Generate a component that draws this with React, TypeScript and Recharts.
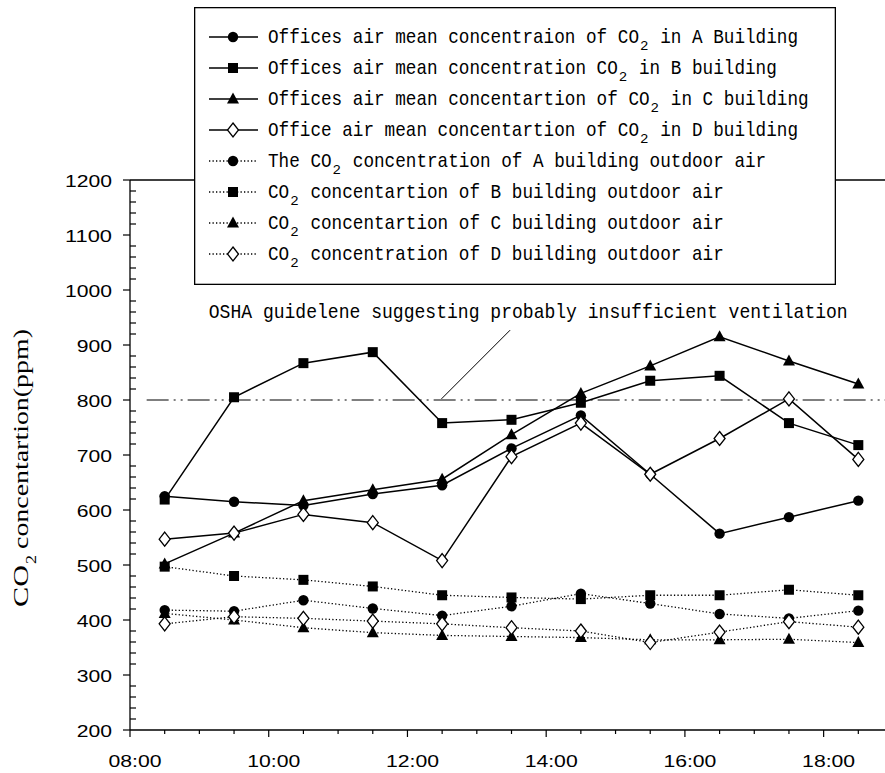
import React from 'react';
import { LineChart, Line, XAxis, YAxis, ReferenceLine, Legend, Label } from 'recharts';

// sampling times (hours), half past each hour
const hours = [8.5, 9.5, 10.5, 11.5, 12.5, 13.5, 14.5, 15.5, 16.5, 17.5, 18.5];

// indoor office means (ppm)
const officeA = [625, 615, 608, 629, 645, 712, 772, 665, 557, 587, 617];
const officeB = [619, 805, 867, 887, 758, 764, 795, 835, 844, 758, 718];
const officeC = [502, 558, 617, 637, 656, 737, 812, 862, 915, 871, 829];
const officeD = [547, 558, 592, 577, 508, 697, 758, 665, 730, 802, 692];

// outdoor air (ppm)
const outdoorA = [418, 416, 436, 421, 408, 425, 448, 430, 411, 403, 417];
const outdoorB = [497, 480, 473, 461, 445, 441, 438, 445, 445, 455, 445];
const outdoorC = [412, 400, 386, 377, 372, 370, 368, 364, 364, 365, 359];
const outdoorD = [393, 406, 403, 398, 393, 386, 380, 359, 378, 397, 387];

const xTicks = [8, 8.5, 9, 9.5, 10, 10.5, 11, 11.5, 12, 12.5, 13, 13.5, 14, 14.5, 15, 15.5, 16, 16.5, 17, 17.5, 18, 18.5, 19];
const yTicks = Array.from({ length: 51 }, (_, i) => 200 + i * 20);

const OSHA_LIMIT = 800;
const OSHA_NOTE = 'OSHA guidelene suggesting probably insufficient ventilation';

type Shape = 'circle' | 'square' | 'triangle' | 'diamond';

const series: { key: string; name: string; shape: Shape; dotted: boolean; values: number[] }[] = [
  { key: 'outA', name: 'The CO₂ concentration of A building outdoor air', shape: 'circle', dotted: true, values: outdoorA },
  { key: 'outB', name: 'CO₂ concentartion of B building outdoor air', shape: 'square', dotted: true, values: outdoorB },
  { key: 'outC', name: 'CO₂ concentartion of C building outdoor air', shape: 'triangle', dotted: true, values: outdoorC },
  { key: 'outD', name: 'CO₂ concentration of D building outdoor air', shape: 'diamond', dotted: true, values: outdoorD },
  { key: 'inA', name: 'Offices air mean concentraion of CO₂ in A Building', shape: 'circle', dotted: false, values: officeA },
  { key: 'inB', name: 'Offices air mean concentration CO₂ in B building', shape: 'square', dotted: false, values: officeB },
  { key: 'inC', name: 'Offices air mean concentartion of CO₂ in C building', shape: 'triangle', dotted: false, values: officeC },
  { key: 'inD', name: 'Office air mean concentartion of CO₂ in D building', shape: 'diamond', dotted: false, values: officeD },
];
const legendOrder = ['inA', 'inB', 'inC', 'inD', 'outA', 'outB', 'outC', 'outD'];

const rows = hours.map((t, i) => {
  const r: Record<string, number> = { t };
  series.forEach(s => { r[s.key] = s.values[i]; });
  return r;
});

const MONO = '"Liberation Mono", "DejaVu Sans Mono", monospace';
const SANS = '"Liberation Sans", Arial, sans-serif';
const SERIF = '"Liberation Serif", "Times New Roman", serif';
const DOTS = '1.3 2.2';

function Marker({ shape, cx, cy }: { shape: Shape; cx: number; cy: number }) {
  if (shape === 'circle') return <circle cx={cx} cy={cy} r={5.2} fill="#000" />;
  if (shape === 'square') return <rect x={cx - 5} y={cy - 5} width={10} height={10} fill="#000" />;
  if (shape === 'triangle') return <path d={`M${cx},${cy - 6.5}L${cx + 6},${cy + 4.5}L${cx - 6},${cy + 4.5}Z`} fill="#000" />;
  return <path d={`M${cx},${cy - 7}L${cx + 5.5},${cy}L${cx},${cy + 7}L${cx - 5.5},${cy}Z`} fill="#fff" stroke="#000" strokeWidth={1.3} />;
}

// monospaced text laid out cell by cell; "₂" becomes a subscript 2 in its own cell
function MonoText({ text, x, y, pitch, size }: { text: string; x: number; y: number; pitch: number; size: number }) {
  const parts = text.split('₂');
  const out: React.ReactNode[] = [];
  let pos = 0;
  parts.forEach((p, i) => {
    const lead = p.length - p.trimStart().length;
    const body = p.trim();
    if (body.length) {
      out.push(
        <text key={`p${i}`} x={x + (pos + lead) * pitch} y={y} fontFamily={MONO} fontSize={size} textLength={body.length * pitch} lengthAdjust="spacingAndGlyphs" fill="#000">{body}</text>
      );
    }
    pos += p.length;
    if (i < parts.length - 1) {
      out.push(
        <text key={`s${i}`} x={x + pos * pitch + 1} y={y + 7} fontFamily={MONO} fontSize={size * 0.62} textLength={pitch * 0.8} lengthAdjust="spacingAndGlyphs" fill="#000">2</text>
      );
      pos += 1;
    }
  });
  return <g>{out}</g>;
}

function LegendBox() {
  return (
    <svg width={642} height={278} style={{ display: 'block' }}>
      <rect x={0.65} y={0.65} width={640.7} height={276.7} fill="#fff" stroke="#000" strokeWidth={1.3} />
      {legendOrder.map((k, i) => {
        const s = series.find(v => v.key === k)!;
        const cy = 30 + i * 31;
        return (
          <g key={k}>
            <line x1={15} x2={64} y1={cy} y2={cy} stroke="#000" strokeWidth={s.dotted ? 1.3 : 1.5} strokeDasharray={s.dotted ? DOTS : undefined} />
            <Marker shape={s.shape} cx={39} cy={cy} />
            <MonoText text={s.name} x={74} y={cy + 6} pitch={10.6} size={21} />
          </g>
        );
      })}
    </svg>
  );
}

function HourTick(props: any) {
  const { x, y, payload } = props;
  const v = payload.value as number;
  const major = v % 2 === 0 && v < 19;
  const label = `${String(v).padStart(2, '0')}:00`;
  return (
    <g>
      <line x1={x} x2={x} y1={y} y2={y + (major ? 7 : 4)} stroke="#000" strokeWidth={1.2} />
      {major && (
        <text x={x + 5 - 26.5} y={y + 37} fontFamily={SANS} fontSize={17} textLength={53} lengthAdjust="spacingAndGlyphs" fill="#000">{label}</text>
      )}
    </g>
  );
}

function PpmTick(props: any) {
  const { x, y, payload } = props;
  const v = payload.value as number;
  if (v % 100 !== 0) {
    return <line x1={x} x2={x + 6} y1={y} y2={y} stroke="#000" strokeWidth={1.2} />;
  }
  const label = String(v);
  const w = label.length * 11.75;
  return (
    <g>
      <line x1={x - 7} x2={x} y1={y} y2={y} stroke="#000" strokeWidth={1.2} />
      <text x={x - 18 - w} y={y + 6.8} fontFamily={SANS} fontSize={17} textLength={w} lengthAdjust="spacingAndGlyphs" fill="#000">{label}</text>
    </g>
  );
}

function YTitle(props: any) {
  const vb = props.viewBox || { x: 0, y: 180, width: 130, height: 550 };
  const bx = vb.x + 28;
  const by = vb.y + vb.height - 123;
  return (
    <g transform={`translate(${bx},${by}) rotate(-90)`}>
      <text x={0} y={0} fontFamily={SERIF} fontSize={22} textLength={42} lengthAdjust="spacingAndGlyphs" fill="#000">CO</text>
      <text x={43} y={8} fontFamily={SERIF} fontSize={14} textLength={9} lengthAdjust="spacingAndGlyphs" fill="#000">2</text>
      <text x={58} y={0} fontFamily={SERIF} fontSize={22} textLength={220} lengthAdjust="spacingAndGlyphs" fill="#000">concentartion(ppm)</text>
    </g>
  );
}

function NoteLabel(props: any) {
  const vb = props.viewBox || {};
  const left = Math.min(vb.x ?? 0, (vb.x ?? 0) + (vb.width ?? 0));
  const top = Math.min(vb.y ?? 0, (vb.y ?? 0) + (vb.height ?? 0));
  return <MonoText text={OSHA_NOTE} x={left - 232.7} y={top - 12} pitch={10.83} size={21} />;
}

export default function App() {
  return (
    <div style={{ position: 'absolute', left: 0, top: 0, width: 885, height: 773, overflow: 'hidden', background: '#fff' }}>
      <LineChart width={893} height={773} data={rows} margin={{ top: 180, right: 0, bottom: 0, left: 0 }}>
        <XAxis
          dataKey="t"
          type="number"
          domain={[8, 19]}
          ticks={xTicks}
          interval={0}
          height={43}
          tickSize={0}
          tickMargin={0}
          tickLine={false}
          axisLine={{ stroke: '#000', strokeWidth: 1.3 }}
          tick={<HourTick />}
          allowDataOverflow
        />
        <YAxis
          type="number"
          domain={[200, 1200]}
          ticks={yTicks}
          interval={0}
          width={130}
          tickSize={0}
          tickMargin={0}
          tickLine={false}
          axisLine={{ stroke: '#000', strokeWidth: 1.3 }}
          tick={<PpmTick />}
          allowDataOverflow
        >
          <Label content={<YTitle />} />
        </YAxis>
        <ReferenceLine y={1200} stroke="#000" strokeWidth={1.3} />
        <ReferenceLine
          segment={[{ x: 8.24, y: OSHA_LIMIT }, { x: 19, y: OSHA_LIMIT }]}
          stroke="#555"
          strokeWidth={1.5}
          strokeDasharray="22 5 2 5 2 5"
        />
        <ReferenceLine
          segment={[{ x: 12.49, y: 802 }, { x: 13.48, y: 927 }]}
          stroke="#000"
          strokeWidth={1}
          label={<NoteLabel />}
        />
        {series.map(s => (
          <Line
            key={s.key}
            dataKey={s.key}
            name={s.name}
            type="linear"
            stroke="#000"
            strokeWidth={s.dotted ? 1.3 : 1.5}
            strokeDasharray={s.dotted ? DOTS : undefined}
            dot={(p: any) => <Marker key={`${s.key}-${p.index}`} shape={s.shape} cx={p.cx} cy={p.cy} />}
            activeDot={false}
            isAnimationActive={false}
          />
        ))}
        <Legend
          layout="horizontal"
          verticalAlign="middle"
          align="center"
          wrapperStyle={{ left: 194, top: 7, width: 642, height: 278 }}
          content={() => <LegendBox />}
        />
      </LineChart>
    </div>
  );
}
